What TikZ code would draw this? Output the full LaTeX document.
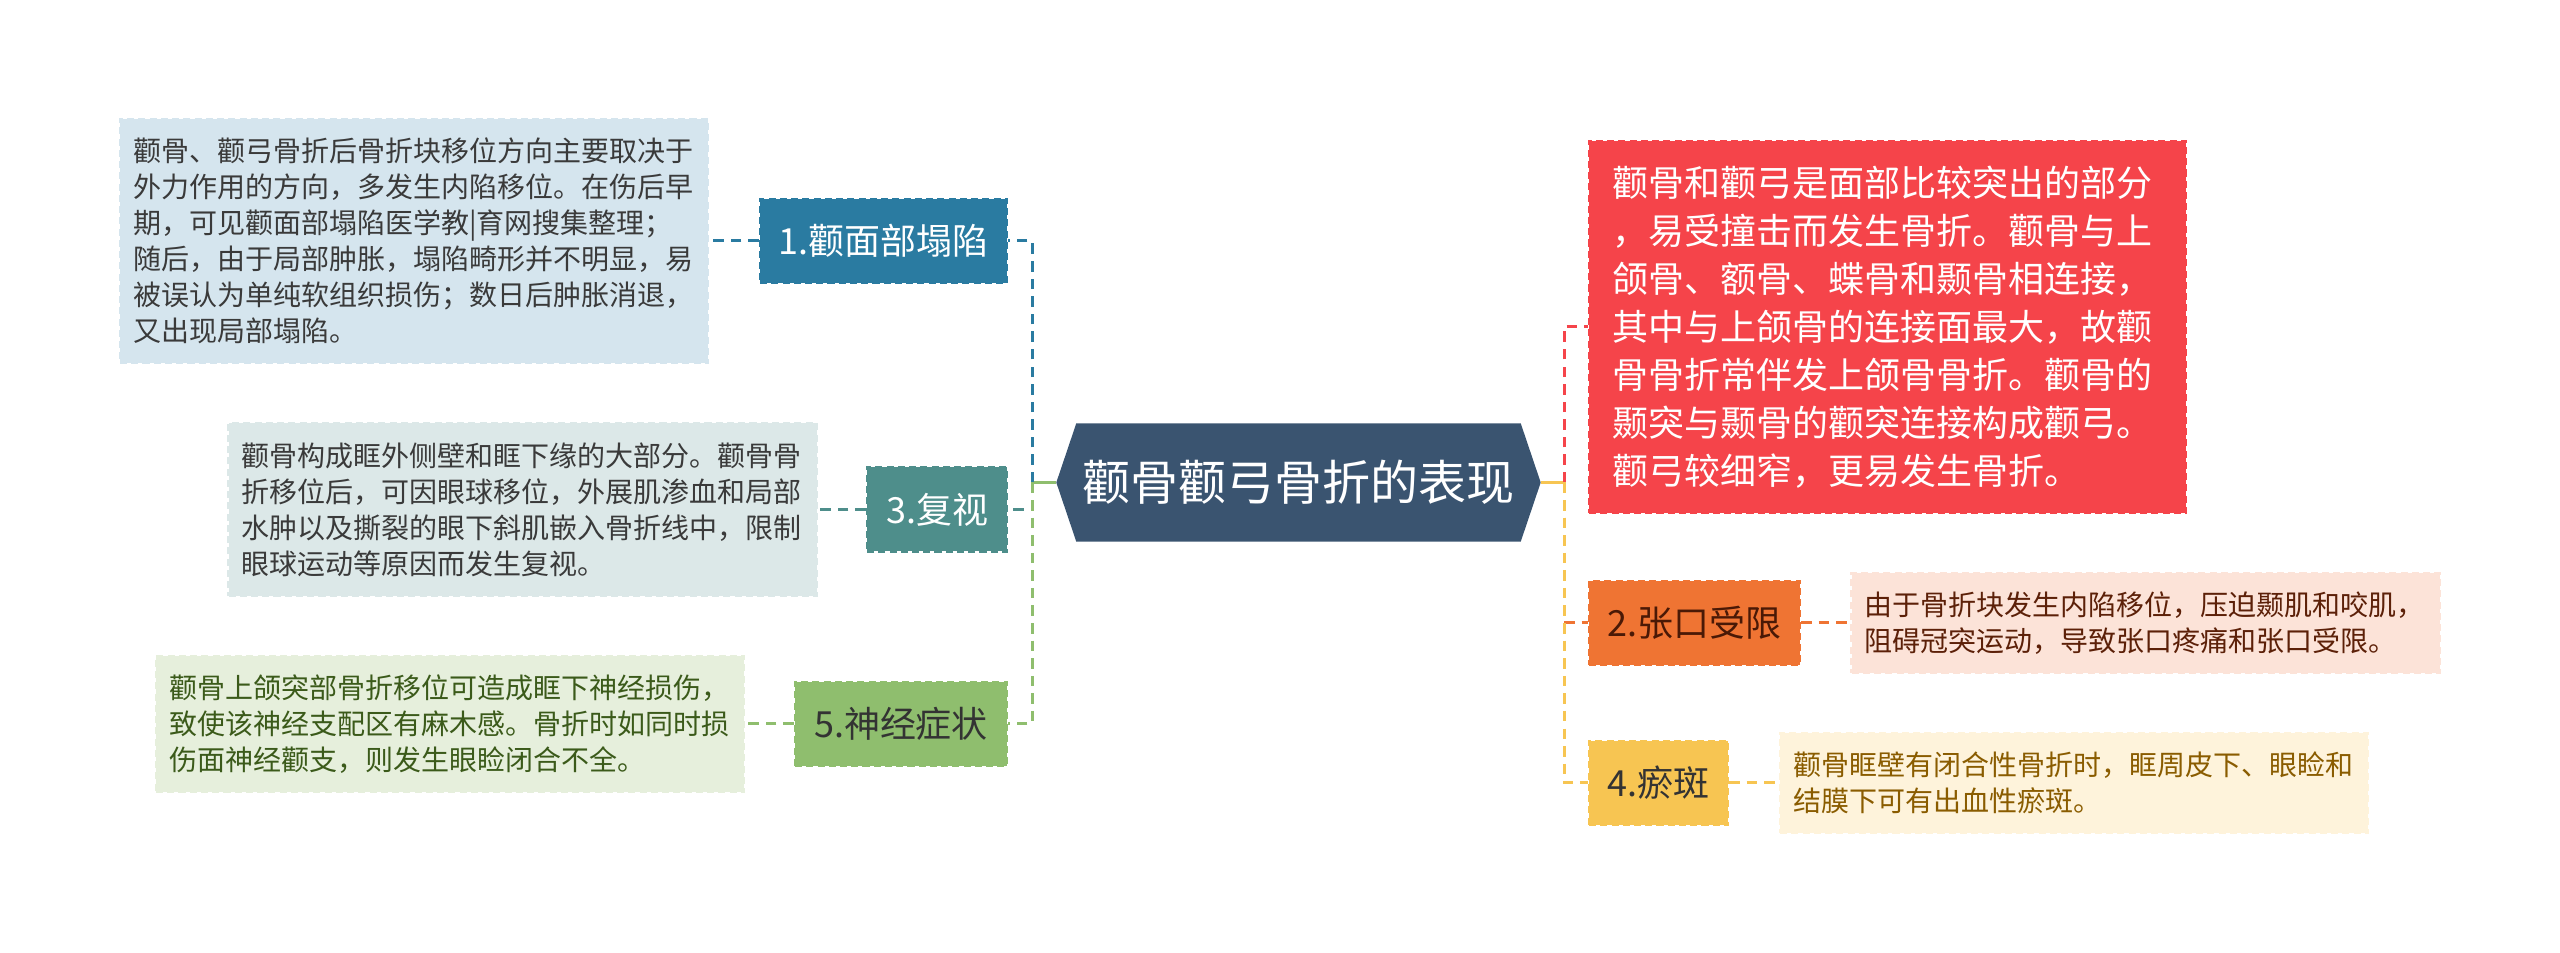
\documentclass[tikz,border=0pt]{standalone}
\usepackage{fontspec}
\setmainfont{Noto Sans CJK SC}
\usetikzlibrary{backgrounds}
\definecolor{rootc}{HTML}{3A5470}
\definecolor{bluec}{HTML}{2A7BA1}
\definecolor{bluel}{HTML}{D5E5EE}
\definecolor{tealc}{HTML}{4E8E8B}
\definecolor{teall}{HTML}{DCE8E8}
\definecolor{greenc}{HTML}{8FBE6E}
\definecolor{greenl}{HTML}{E6EFDC}
\definecolor{greent}{HTML}{3B5A1A}
\definecolor{redc}{HTML}{F5444A}
\definecolor{orangec}{HTML}{EF7433}
\definecolor{orangel}{HTML}{FCE3D8}
\definecolor{oranget}{HTML}{5C2008}
\definecolor{yellowc}{HTML}{F7C552}
\definecolor{yellowl}{HTML}{FEF3DB}
\definecolor{yellowt}{HTML}{8A5C00}
\definecolor{darkt}{HTML}{3A3A3A}
\begin{document}
\begin{tikzpicture}[
  topic/.style={draw=#1,fill=#1,dash pattern=on 2pt off 1.2pt,line width=0.6pt,inner sep=0pt,
    minimum height=0.84cm,font=\fontsize{10.24pt}{12pt}\selectfont},
  note/.style={draw=#1,fill=#1,dash pattern=on 2pt off 1.2pt,line width=0.6pt,inner sep=0pt,
    text width=5.62cm,minimum width=5.88cm,align=left,font=\fontsize{7.97pt}{10.24pt}\selectfont},
  link/.style={draw=#1,line width=0.85pt,dash pattern=on 3pt off 2pt}]
\useasboundingbox (0,0) rectangle (25.6,9.53);
% centre
\node[text=white,minimum width=4.43cm,minimum height=1.17cm,inner sep=0pt,font=\fontsize{13.66pt}{16pt}\selectfont] (root) at (12.985,4.705) {颧骨颧弓骨折的表现};
\begin{scope}[on background layer]
\fill[rootc] (root.north west) -- (root.north east) -- ([xshift=2mm]root.east) -- (root.south east) -- (root.south west) -- ([xshift=-2mm]root.west) -- cycle;
\end{scope}
\coordinate (jl) at (10.32,4.705);
\coordinate (jr) at (15.64,4.705);
% left side
\node[topic=bluec,text=white,minimum width=2.47cm] (b1) at (8.835,7.12) {1.颧面部塌陷};
\node[topic=tealc,text=white,minimum width=1.40cm] (b3) at (9.37,4.435) {3.复视};
\node[topic=greenc,text=black!80,minimum width=2.12cm] (b5) at (9.01,2.29) {5.神经症状};
\node[note=bluel,text=darkt,minimum height=2.44cm] (d1) at (4.14,7.12) {颧骨、颧弓骨折后骨折块移位方向主要取决于\\外力作用的方向，多发生内陷移位。在伤后早\\期，可见颧面部塌陷医学教|育网搜集整理；\\随后，由于局部肿胀，塌陷畸形并不明显，易\\被误认为单纯软组织损伤；数日后肿胀消退，\\又出现局部塌陷。};
\node[note=teall,text=darkt,minimum height=1.73cm] (d3) at (5.225,4.435) {颧骨构成眶外侧壁和眶下缘的大部分。颧骨骨\\折移位后，可因眼球移位，外展肌渗血和局部\\水肿以及撕裂的眼下斜肌嵌入骨折线中，限制\\眼球运动等原因而发生复视。};
\node[note=greenl,text=greent,minimum height=1.36cm] (d5) at (4.50,2.29) {颧骨上颌突部骨折移位可造成眶下神经损伤，\\致使该神经支配区有麻木感。骨折时如同时损\\伤面神经颧支，则发生眼睑闭合不全。};
% right side
\node[topic=redc,text=white,minimum width=5.97cm,minimum height=3.72cm,text width=5.5cm,align=left,
  font=\fontsize{10.24pt}{13.66pt}\selectfont] (b0) at (18.875,6.26) {颧骨和颧弓是面部比较突出的部分\\，易受撞击而发生骨折。颧骨与上\\颌骨、额骨、蝶骨和颞骨相连接，\\其中与上颌骨的连接面最大，故颧\\骨骨折常伴发上颌骨骨折。颧骨的\\颞突与颞骨的颧突连接构成颧弓。\\颧弓较细窄，更易发生骨折。};
\node[topic=orangec,text=oranget!80!black,minimum width=2.11cm] (b2) at (16.945,3.30) {2.张口受限};
\node[topic=yellowc,text=black!80,minimum width=1.39cm] (b4) at (16.585,1.70) {4.瘀斑};
\node[note=orangel,text=oranget,minimum height=1.00cm] (d2) at (21.455,3.30) {由于骨折块发生内陷移位，压迫颞肌和咬肌，\\阻碍冠突运动，导致张口疼痛和张口受限。};
\node[note=yellowl,text=yellowt,minimum height=1.00cm] (d4) at (20.74,1.70) {颧骨眶壁有闭合性骨折时，眶周皮下、眼睑和\\结膜下可有出血性瘀斑。};
% connectors
\draw[greenc,line width=0.85pt] ([xshift=-2mm]root.west) -- (jl);
\draw[yellowc,line width=0.85pt] ([xshift=2mm]root.east) -- (jr);
\draw[link=bluec] (jl) |- (b1.east);
\draw[link=tealc] (jl) |- (b3.east);
\draw[link=greenc] (jl) |- (b5.east);
\draw[link=redc] (jr) |- (b0.west);
\draw[link=orangec] (jr) |- (b2.west);
\draw[link=yellowc] (jr) |- (b4.west);
\draw[link=bluec] (b1.west) -- (d1.east);
\draw[link=tealc] (b3.west) -- (d3.east);
\draw[link=greenc] (b5.west) -- (d5.east);
\draw[link=orangec] (b2.east) -- (d2.west);
\draw[link=yellowc] (b4.east) -- (d4.west);
\end{tikzpicture}
\end{document}
